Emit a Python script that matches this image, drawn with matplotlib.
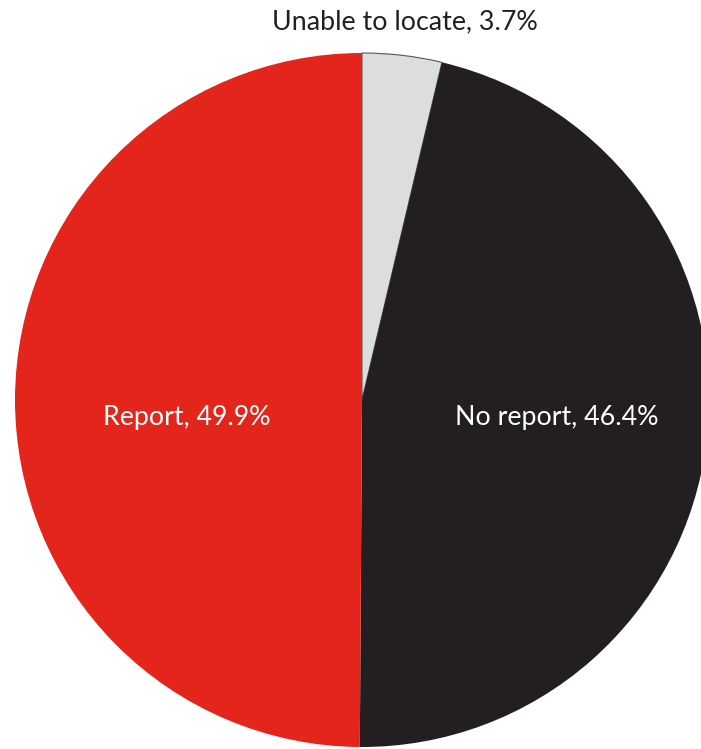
import matplotlib.pyplot as plt

labels = ['Unable to locate', 'No report', 'Report']
shares = [3.7, 46.4, 49.9]
colors = ['#dcddde', '#231f20', '#e4251b']
text_colors = ['#231f20', 'white', 'white']

plt.rcParams['font.family'] = ['Lato', 'DejaVu Sans']

W, H = 701, 749
fig = plt.figure(figsize=(W / 100, H / 100), dpi=100)
ax = fig.add_axes([0, 0, 1, 1])

cx, cy, r = 362, H - 400, 347
wedges, _ = ax.pie(shares, colors=colors, startangle=90, counterclock=False,
                   center=(cx, cy), radius=r, frame=True,
                   wedgeprops=dict(edgecolor='none', linewidth=0))
# only the light slice has a visible outline
wedges[0].set_edgecolor('#555555')
wedges[0].set_linewidth(0.8)

ax.set_xlim(0, W)
ax.set_ylim(0, H)
ax.set_aspect('equal')
ax.axis('off')

# label positions (pixel offsets from the centre)
label_pos = [(405 - cx, 400 - 22), (557 - cx, 400 - 418), (187 - cx, 400 - 418)]
for lab, val, tc, (dx, dy) in zip(labels, shares, text_colors, label_pos):
    ax.text(cx + dx, cy + dy, f'{lab}, {val}%', color=tc, fontsize=19.3,
            ha='center', va='center')

fig.savefig('out.png', dpi=100)
